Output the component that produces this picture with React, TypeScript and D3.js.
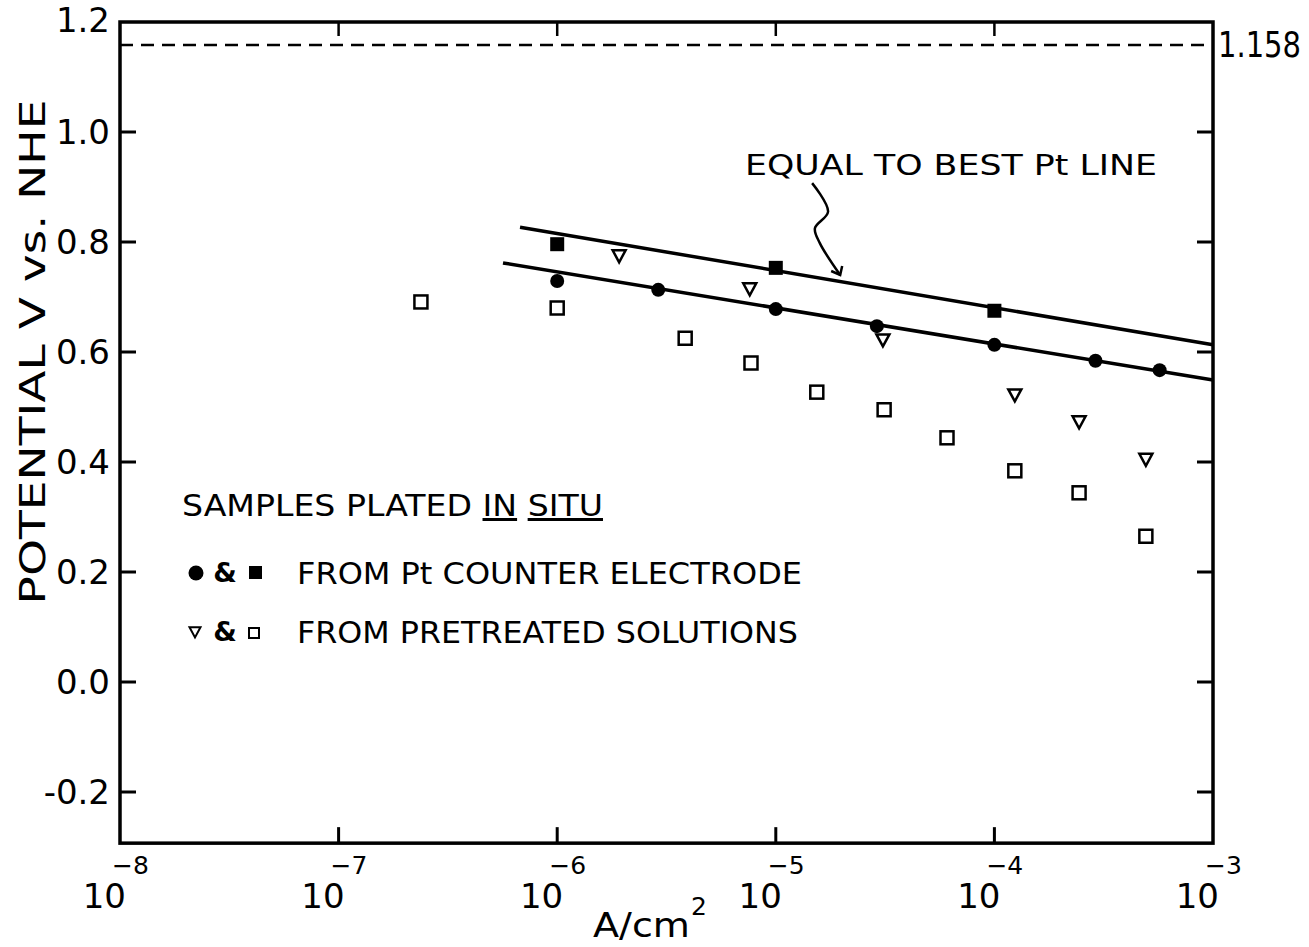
import React from 'react';
import * as d3 from 'd3';

// ---- data ----
const decades = [-8, -7, -6, -5, -4, -3];
const yTicks = [1.0, 0.8, 0.6, 0.4, 0.2, 0.0, -0.2];
const yTickLabels = ['1.0', '0.8', '0.6', '0.4', '0.2', '0.0', '-0.2'];
const yTopLabel = '1.2';
const yTop = 1.2;
const yBottom = -0.293;
const refLevel = 1.158;
const refLabel = '1.158';

const ptCircleX = [1e-6, 2.9e-6, 1e-5, 2.9e-5, 1e-4, 2.9e-4, 5.7e-4];
const ptCircleY = [0.729, 0.713, 0.678, 0.647, 0.613, 0.584, 0.567];
const ptSquareX = [1e-6, 1e-5, 1e-4];
const ptSquareY = [0.796, 0.753, 0.675];
const triX = [1.92e-6, 7.6e-6, 3.09e-5, 1.24e-4, 2.44e-4, 4.93e-4];
const triY = [0.775, 0.715, 0.622, 0.522, 0.473, 0.405];
const sqX = [2.38e-7, 1e-6, 3.85e-6, 7.7e-6, 1.54e-5, 3.13e-5, 6.07e-5, 1.24e-4, 2.44e-4, 4.93e-4];
const sqY = [0.691, 0.68, 0.625, 0.58, 0.527, 0.495, 0.444, 0.384, 0.344, 0.265];

const upperLineX = [6.76e-7, 1e-3];
const upperLineY = [0.827, 0.613];
const lowerLineX = [5.65e-7, 1e-3];
const lowerLineY = [0.762, 0.549];

// annotation arrow path (data space)
const arrowX = [1.466e-5, 1.734e-5, 1.51e-5, 1.59e-5, 1.97e-5];
const arrowY = [0.907, 0.855, 0.825, 0.798, 0.74];

const annotationText = 'EQUAL TO BEST Pt LINE';
const legendTitle = ['SAMPLES PLATED ', 'IN', ' ', 'SITU'];
const legendLine1 = 'FROM Pt COUNTER ELECTRODE';
const legendLine2 = 'FROM PRETREATED SOLUTIONS';
const yTitle = 'POTENTIAL V vs. NHE';
const xTitle = 'A/cm';

const FONT = "'DejaVu Sans', sans-serif";

export default function App() {
  const W = 1309, H = 947;
  const x = d3.scaleLog().domain([1e-8, 1e-3]).range([120, 1213]);
  const y = d3.scaleLinear().domain([-0.2, 1.2]).range([792, 22]);
  const x0 = x(1e-8), x1 = x(1e-3);
  const yT = y(yTop), yB = y(yBottom);
  const line = d3.line<[number, number]>().x(d => x(d[0])).y(d => y(d[1]));
  const curve = d3.line<[number, number]>().x(d => x(d[0])).y(d => y(d[1])).curve(d3.curveCatmullRom);
  const upper = upperLineX.map((v, i) => [v, upperLineY[i]] as [number, number]);
  const lower = lowerLineX.map((v, i) => [v, lowerLineY[i]] as [number, number]);
  const arrow = arrowX.map((v, i) => [v, arrowY[i]] as [number, number]);
  const ax = x(arrowX[arrowX.length - 1]);
  const ay = y(arrowY[arrowY.length - 1]);
  const tri = (cx: number, cy: number, s: number) =>
    `M${cx - s},${cy - s * 0.85}L${cx + s},${cy - s * 0.85}L${cx},${cy + s * 1.0}Z`;

  return (
    <svg width={W} height={H} style={{ position: 'absolute', left: 0, top: 0, background: '#fff' }}
      fontFamily={FONT}>
      <rect width={W} height={H} fill="#fff" />
      {/* frame */}
      <rect x={x0} y={yT} width={x1 - x0} height={yB - yT} fill="none" stroke="#000" strokeWidth={3.5} />
      {/* y ticks */}
      {yTicks.map((t, i) => (
        <g key={'yt' + i}>
          <line x1={x0} x2={x0 + 16} y1={y(t)} y2={y(t)} stroke="#000" strokeWidth={3} />
          <line x1={x1} x2={x1 - 16} y1={y(t)} y2={y(t)} stroke="#000" strokeWidth={3} />
          <text x={110} y={y(t)} dy="0.36em" textAnchor="end" fontSize={34} fill="#000">{yTickLabels[i]}</text>
        </g>
      ))}
      <text x={110} y={yT} dy="0.3em" textAnchor="end" fontSize={34} fill="#000">{yTopLabel}</text>
      {/* x ticks */}
      {decades.map((d, i) => {
        const px = x(Math.pow(10, d));
        return (
          <g key={'xt' + i}>
            {i > 0 && i < decades.length - 1 && (
              <>
                <line x1={px} x2={px} y1={yB} y2={yB - 16} stroke="#000" strokeWidth={3} />
                <line x1={px} x2={px} y1={yT} y2={yT + 14} stroke="#000" strokeWidth={2.5} />
              </>
            )}
            <text x={px + 6} y={908} textAnchor="end" fontSize={34} fill="#000">10</text>
            <text x={px - 8} y={874} textAnchor="start" fontSize={25} fill="#000">{'\u2212' + Math.abs(d)}</text>
          </g>
        );
      })}
      {/* reference dashed line */}
      <line x1={x0} x2={x1} y1={y(refLevel)} y2={y(refLevel)} stroke="#000" strokeWidth={2.5} strokeDasharray="13,8" />
      <g transform={`translate(${x1 + 5},${y(refLevel) + 12}) scale(1,1.25)`}>
        <text x={0} y={0} fontSize={29} fill="#000">{refLabel}</text>
      </g>
      {/* fit lines */}
      <path d={line(upper) || ''} fill="none" stroke="#000" strokeWidth={3.5} />
      <path d={line(lower) || ''} fill="none" stroke="#000" strokeWidth={3.5} />
      {/* filled circles */}
      {ptCircleX.map((v, i) => (
        <circle key={'c' + i} cx={x(v)} cy={y(ptCircleY[i])} r={7} fill="#000" />
      ))}
      {/* filled squares */}
      {ptSquareX.map((v, i) => (
        <rect key={'s' + i} x={x(v) - 7} y={y(ptSquareY[i]) - 7} width={14} height={14} fill="#000" />
      ))}
      {/* open triangles */}
      {triX.map((v, i) => (
        <path key={'t' + i} d={tri(x(v), y(triY[i]), 6.5)} fill="#fff" stroke="#000" strokeWidth={2.5} />
      ))}
      {/* open squares */}
      {sqX.map((v, i) => (
        <rect key={'q' + i} x={x(v) - 6.5} y={y(sqY[i]) - 6.5} width={13} height={13} fill="#fff" stroke="#000" strokeWidth={2.5} />
      ))}
      {/* annotation */}
      <text x={745} y={175} fontSize={28} fill="#000" textLength={412} lengthAdjust="spacingAndGlyphs">{annotationText}</text>
      <path d={curve(arrow) || ''} fill="none" stroke="#000" strokeWidth={2.5} />
      <path d={`M${ax - 9},${ay - 4}L${ax},${ay}L${ax + 2},${ay - 9}`} fill="none" stroke="#000" strokeWidth={2.5} />
      {/* legend */}
      <text x={182} y={516} fontSize={30} fill="#000" textLength={421} lengthAdjust="spacingAndGlyphs">
        <tspan>{legendTitle[0]}</tspan>
        <tspan textDecoration="underline" style={{ textDecoration: 'underline' }}>{legendTitle[1]}</tspan>
        <tspan>{legendTitle[2]}</tspan>
        <tspan textDecoration="underline" style={{ textDecoration: 'underline' }}>{legendTitle[3]}</tspan>
      </text>
      <circle cx={196} cy={573} r={7.5} fill="#000" />
      <text x={225} y={582} textAnchor="middle" fontSize={27} fontWeight="bold" fill="#000">&amp;</text>
      <rect x={249} y={566} width={13} height={13} fill="#000" />
      <text x={297} y={584} fontSize={30} fill="#000" textLength={505} lengthAdjust="spacingAndGlyphs">{legendLine1}</text>
      <path d={tri(195, 632, 5.5)} fill="#fff" stroke="#000" strokeWidth={2} />
      <text x={225} y={641} textAnchor="middle" fontSize={27} fontWeight="bold" fill="#000">&amp;</text>
      <rect x={249} y={628} width={10} height={10} fill="#fff" stroke="#000" strokeWidth={2} />
      <text x={297} y={643} fontSize={30} fill="#000" textLength={501} lengthAdjust="spacingAndGlyphs">{legendLine2}</text>
      {/* axis titles */}
      <text transform="translate(45,352) rotate(-90)" textAnchor="middle" fontSize={35} fill="#000" textLength={505} lengthAdjust="spacingAndGlyphs">{yTitle}</text>
      <text x={593} y={937} fontSize={34} fill="#000" textLength={97} lengthAdjust="spacingAndGlyphs">{xTitle}</text>
      <text x={691} y={915} fontSize={25} fill="#000">2</text>
    </svg>
  );
}
